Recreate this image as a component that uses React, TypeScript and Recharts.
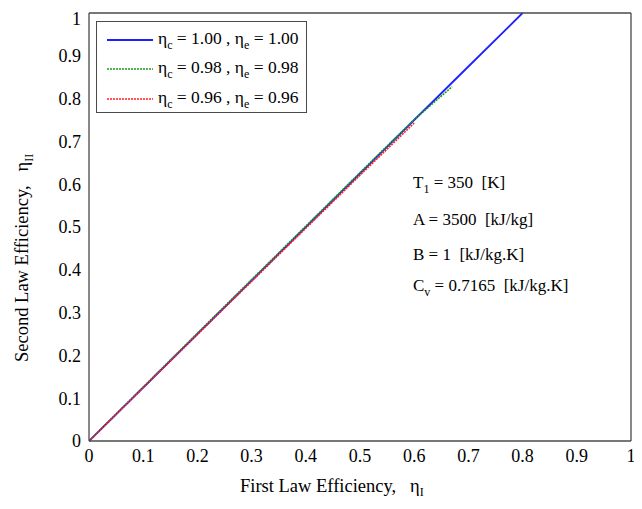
import React from 'react';
import { LineChart, Line, XAxis, YAxis, Legend } from 'recharts';

// First law efficiency (x) and second law efficiency (y) for each case
const etaI_100 = [0, 0.1, 0.2, 0.3, 0.4, 0.5, 0.6, 0.7, 0.8];
const etaII_100 = [0, 0.125, 0.25, 0.375, 0.5, 0.625, 0.75, 0.875, 1.0];

const etaI_098 = [0, 0.1, 0.2, 0.3, 0.4, 0.5, 0.6, 0.67];
const etaII_098 = [0, 0.126, 0.252, 0.377, 0.502, 0.627, 0.751, 0.828];

const etaI_096 = [0, 0.1, 0.2, 0.3, 0.4, 0.5, 0.6];
const etaII_096 = [0, 0.1245, 0.249, 0.373, 0.497, 0.621, 0.743];

const TICKS = [0, 0.1, 0.2, 0.3, 0.4, 0.5, 0.6, 0.7, 0.8, 0.9, 1];

const seriesLabels = ['1.00', '0.98', '0.96'];
const seriesColors = ['#1f1fff', '#1a9a1a', '#ff2020'];
const seriesDash = [undefined, '2 1', '2 1'];

const NB = '\u00a0';
const annotations = [
  { main: 'T', sub: '1', rest: ` = 350${NB}${NB}[K]` },
  { main: `A = 3500${NB}${NB}[kJ/kg]`, sub: '', rest: '' },
  { main: `B = 1${NB}${NB}[kJ/kg.K]`, sub: '', rest: '' },
  { main: 'C', sub: 'v', rest: ` = 0.7165${NB}${NB}[kJ/kg.K]` },
];
const annotationY = [180, 217, 252, 283];

const toRows = (xs: number[], ys: number[]) => xs.map((x, i) => ({ x, y: ys[i] }));
const seriesData = [
  toRows(etaI_100, etaII_100),
  toRows(etaI_098, etaII_098),
  toRows(etaI_096, etaII_096),
];

const FONT = '"Liberation Serif", "Times New Roman", serif';
const AXIS = '#4a4a4a';

const LegendBox = () => (
  <div
    style={{
      border: `1px solid ${AXIS}`,
      background: '#fff',
      width: 211,
      height: 92,
      padding: '3px 0 0 10px',
      boxSizing: 'border-box',
      fontFamily: FONT,
      fontSize: 17.5,
      color: '#000',
    }}
  >
    {seriesLabels.map((lab, i) => (
      <div key={i} style={{ height: 29.5, display: 'flex', alignItems: 'center' }}>
        <svg width={46} height={4} style={{ marginRight: 5 }}>
          <line
            x1={0}
            y1={2}
            x2={46}
            y2={2}
            stroke={seriesColors[i]}
            strokeWidth={i === 0 ? 2 : 1.6}
            strokeDasharray={seriesDash[i]}
          />
        </svg>
        <span style={{ whiteSpace: 'nowrap' }}>
          η<sub style={{ fontSize: 12 }}>c</sub> = {lab} , η<sub style={{ fontSize: 12 }}>e</sub> = {lab}
        </span>
      </div>
    ))}
  </div>
);

export default function App() {
  return (
    <div style={{ position: 'relative', width: 634, height: 493, fontFamily: FONT }}>
      <LineChart width={634} height={493} margin={{ top: 5, right: 11, left: 0, bottom: 0 }}>
        <XAxis
          xAxisId="main"
          type="number"
          dataKey="x"
          domain={[0, 1]}
          ticks={TICKS}
          orientation="bottom"
          height={60}
          tickLine={false}
          axisLine={{ stroke: AXIS, strokeWidth: 1.3 }}
          tick={{ fill: '#000', fontSize: 18, fontFamily: FONT }}
          allowDataOverflow
        />
        <XAxis
          xAxisId="bottomIn"
          type="number"
          dataKey="x"
          domain={[0, 1]}
          ticks={TICKS}
          orientation="bottom"
          mirror
          tick={false}
          tickSize={5}
          tickLine={{ stroke: AXIS }}
          axisLine={false}
        />
        <XAxis
          xAxisId="topIn"
          type="number"
          dataKey="x"
          domain={[0, 1]}
          ticks={TICKS}
          orientation="top"
          mirror
          tick={false}
          tickSize={5}
          tickLine={{ stroke: AXIS }}
          axisLine={{ stroke: AXIS, strokeWidth: 1.3 }}
        />
        <YAxis
          yAxisId="main"
          type="number"
          domain={[0, 1]}
          ticks={TICKS}
          orientation="left"
          width={81}
          tickLine={false}
          axisLine={{ stroke: AXIS, strokeWidth: 1.3 }}
          tick={{ fill: '#000', fontSize: 18, fontFamily: FONT }}
        />
        <YAxis
          yAxisId="leftIn"
          type="number"
          domain={[0, 1]}
          ticks={TICKS}
          orientation="left"
          mirror
          tick={false}
          tickSize={5}
          tickLine={{ stroke: AXIS }}
          axisLine={false}
        />
        <YAxis
          yAxisId="rightIn"
          type="number"
          domain={[0, 1]}
          ticks={TICKS}
          orientation="right"
          mirror
          tick={false}
          tickSize={5}
          tickLine={{ stroke: AXIS }}
          axisLine={{ stroke: AXIS, strokeWidth: 1.3 }}
        />
        <Legend
          layout="vertical"
          align="center"
          verticalAlign="middle"
          wrapperStyle={{ position: 'absolute', left: 88, top: 13, width: 'auto' }}
          content={() => <LegendBox />}
        />
        {seriesData.map((d, i) => (
          <Line
            key={i}
            xAxisId="main"
            yAxisId="main"
            data={d}
            dataKey="y"
            name={`ηc = ${seriesLabels[i]} , ηe = ${seriesLabels[i]}`}
            type="linear"
            stroke={seriesColors[i]}
            strokeWidth={i === 0 ? 1.8 : 1.6}
            strokeDasharray={seriesDash[i]}
            dot={false}
            activeDot={false}
            isAnimationActive={false}
          />
        ))}
      </LineChart>
      <svg
        width={634}
        height={493}
        style={{ position: 'absolute', left: 0, top: 0, pointerEvents: 'none' }}
        fontFamily={FONT}
      >
        <text x={232} y={484} fontSize={18.5} fill="#000">
          {`First Law Efficiency,${NB}${NB}${NB}η`}
          <tspan dy={4} fontSize={12}>I</tspan>
        </text>
        <text x={20} y={354} fontSize={18.5} fill="#000" transform="rotate(-90 20 354)">
          {`Second Law Efficiency,${NB}${NB}${NB}η`}
          <tspan dy={5} fontSize={12}>II</tspan>
        </text>
        {annotations.map((a, i) => (
          <text key={i} x={405} y={annotationY[i]} fontSize={17} fill="#000">
            {a.main}
            {a.sub ? (
              <tspan dy={5} fontSize={12}>
                {a.sub}
              </tspan>
            ) : null}
            {a.rest ? <tspan dy={a.sub ? -5 : 0}>{a.rest}</tspan> : null}
          </text>
        ))}
      </svg>
    </div>
  );
}
